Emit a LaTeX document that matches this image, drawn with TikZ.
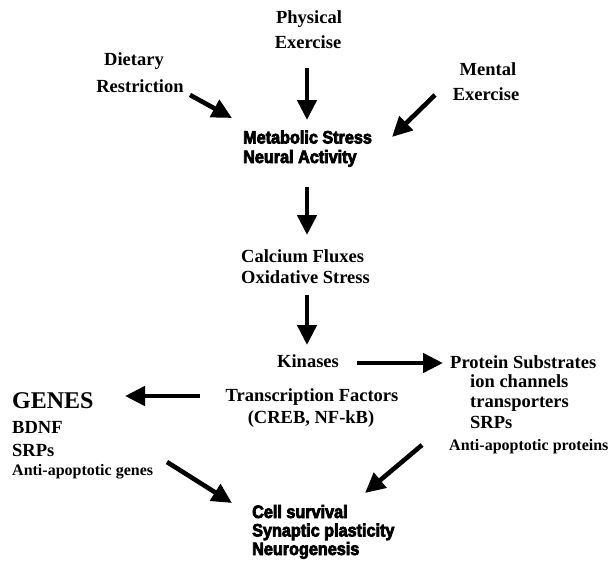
\documentclass[tikz,border=0pt]{standalone}
\usepackage{fontspec}
\setmainfont{Liberation Serif}
\newfontfamily\heavyfont[FakeStretch=0.9,BoldFeatures={FakeBold=4},UprightFeatures={FakeBold=4}]{Liberation Sans}
\usetikzlibrary{arrows.meta}
\tikzset{
  txt/.style={inner sep=0pt, font=\bfseries\fontsize{18.5}{21}\selectfont},
  bigtxt/.style={inner sep=0pt, font=\bfseries\fontsize{24}{28}\selectfont},
  smalltxt/.style={inner sep=0pt, font=\bfseries\fontsize{16}{18}\selectfont},
  hvy/.style={inner sep=0pt, font=\heavyfont\bfseries\fontsize{18}{19}\selectfont},
  arr/.style={line width=4.6pt, -{Triangle[width=19pt,length=20pt]}}
}
\begin{document}
\begin{tikzpicture}[x=1pt,y=-1pt]
\useasboundingbox (0,0) rectangle (616,560);
% inputs
\node[txt, anchor=base] (phys1) at (309,23) {Physical};
\node[txt, anchor=base] (phys2) at (308,48) {Exercise};
\node[txt, anchor=base] (diet1) at (134,65) {Dietary};
\node[txt, anchor=base] (diet2) at (140,92) {Restriction};
\node[txt, anchor=base] (ment1) at (488,75) {Mental};
\node[txt, anchor=base] (ment2) at (486,100) {Exercise};
% metabolic
\node[hvy, anchor=base west] (meta1) at (243,143.5) {Metabolic Stress};
\node[hvy, anchor=base west] (meta2) at (243,163) {Neural Activity};
% calcium
\node[txt, anchor=base west] (calc1) at (241,262) {Calcium Fluxes};
\node[txt, anchor=base west] (calc2) at (241,283) {Oxidative Stress};
% kinases
\node[txt, anchor=base west] (kin) at (277,367) {Kinases};
\node[txt, anchor=base] (tf1) at (312,401) {Transcription Factors};
\node[txt, anchor=base] (tf2) at (311,423) {(CREB, NF-kB)};
% protein substrates
\node[txt, anchor=base west] (ps1) at (450,368) {Protein Substrates};
\node[txt, anchor=base west] (ps2) at (470,387.5) {ion channels};
\node[txt, anchor=base west] (ps3) at (470,407.5) {transporters};
\node[txt, anchor=base west] (ps4) at (470,428) {SRPs};
\node[smalltxt, anchor=base west] (ps5) at (449,450) {Anti-apoptotic proteins};
% genes
\node[bigtxt, anchor=base west] (g1) at (12,408) {GENES};
\node[txt, anchor=base west] (g2) at (12,433) {BDNF};
\node[txt, anchor=base west] (g3) at (12,456) {SRPs};
\node[smalltxt, anchor=base west] (g4) at (12,475) {Anti-apoptotic genes};
% outcomes
\node[hvy, anchor=base west] (out1) at (252,518) {Cell survival};
\node[hvy, anchor=base west] (out2) at (252,536.5) {Synaptic plasticity};
\node[hvy, anchor=base west] (out3) at (252,555) {Neurogenesis};
% arrow end points
\coordinate (aPs) at (307,68);  \coordinate (aPe) at (307,120);
\coordinate (aDs) at (190,95);  \coordinate (aDe) at (232,118);
\coordinate (aMs) at (435,95);  \coordinate (aMe) at (392,137);
\coordinate (aCs) at (307,187); \coordinate (aCe) at (307,235);
\coordinate (aKs) at (307,295); \coordinate (aKe) at (307,345);
\coordinate (aRs) at (357,363); \coordinate (aRe) at (443,363);
\coordinate (aGs) at (200,396); \coordinate (aGe) at (125,396);
\coordinate (aLs) at (167,462); \coordinate (aLe) at (232,503);
\coordinate (aQs) at (422,445); \coordinate (aQe) at (365,493);
\draw[arr] (aPs) -- (aPe);
\draw[arr] (aDs) -- (aDe);
\draw[arr] (aMs) -- (aMe);
\draw[arr] (aCs) -- (aCe);
\draw[arr] (aKs) -- (aKe);
\draw[arr] (aRs) -- (aRe);
\draw[arr] (aGs) -- (aGe);
\draw[arr] (aLs) -- (aLe);
\draw[arr] (aQs) -- (aQe);
\end{tikzpicture}
\end{document}
